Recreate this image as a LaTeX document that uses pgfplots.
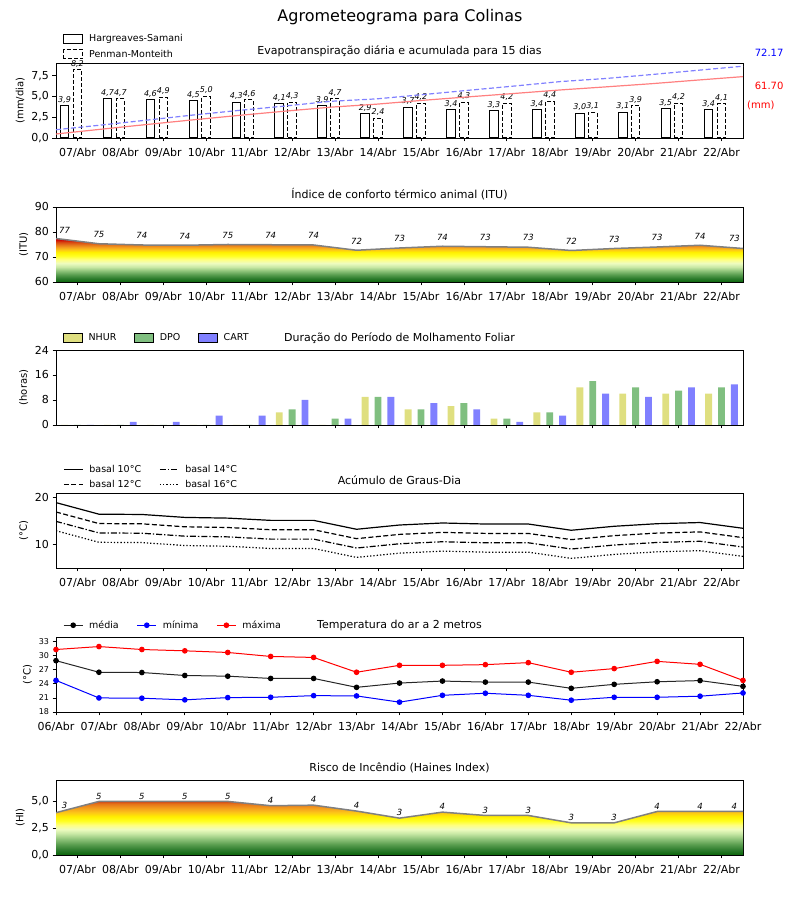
\documentclass[border=0pt]{standalone}
\usepackage{fontspec}
\setmainfont{DejaVu Sans}
\usepackage{pgfplots}
\pgfplotsset{compat=1.18}

\definecolor{nhur}{HTML}{DFDF80}
\definecolor{dpo}{HTML}{80BF80}
\definecolor{cart}{HTML}{8080FF}
\definecolor{cumred}{HTML}{FF8080}
\definecolor{cumblue}{HTML}{8080FF}
\definecolor{s0}{HTML}{0A640A}
\definecolor{s1}{HTML}{2E7D2E}
\definecolor{s2}{HTML}{5A9E50}
\definecolor{s3}{HTML}{8FC47A}
\definecolor{s4}{HTML}{C8E8A4}
\definecolor{s5}{HTML}{EEFCC0}
\definecolor{s6}{HTML}{FFFF80}
\definecolor{s7}{HTML}{FFFF20}
\definecolor{s8}{HTML}{FFEE00}
\definecolor{s9}{HTML}{FCC419}
\definecolor{s10}{HTML}{F39C1E}
\definecolor{s11}{HTML}{E4721A}
\definecolor{s12}{HTML}{D84410}
\definecolor{s13}{HTML}{CC0000}

% colour scales (path bounding box -> 25bp..75bp)
\pgfdeclareverticalshading{itu}{100bp}{color(0bp)=(s0); color(25bp)=(s0);
  color(29.31bp)=(s1); color(33.62bp)=(s2); color(37.93bp)=(s3);
  color(42.24bp)=(s4); color(46.55bp)=(s5); color(50.86bp)=(s6);
  color(55.17bp)=(s7); color(59.48bp)=(s8); color(62.36bp)=(s9);
  color(65.23bp)=(s10); color(68.10bp)=(s11); color(70.98bp)=(s12);
  color(73.85bp)=(s13); color(100bp)=(s13)}
\pgfdeclareverticalshading{haines}{100bp}{color(0bp)=(s0); color(25bp)=(s0);
  color(30bp)=(s1); color(35bp)=(s2); color(40bp)=(s3); color(45bp)=(s4);
  color(49bp)=(s5); color(53bp)=(s6); color(57bp)=(s7); color(61bp)=(s8);
  color(65bp)=(s9); color(69bp)=(s10); color(73bp)=(s11); color(75bp)=(s12);
  color(100bp)=(s12)}

\pgfplotsset{
  /pgf/number format/assume math mode=true,
  panel/.style={
    scale only axis, width=687pt, height=75pt, anchor=south west,
    axis line style={line width=0.9pt},
    tick align=outside, tick pos=left, major tick length=3.5pt,
    major tick style={line width=0.8pt, black},
    xmin=-0.5, xmax=15.5, xtick={0,...,15},
    xticklabels={07/Abr,08/Abr,09/Abr,10/Abr,11/Abr,12/Abr,13/Abr,14/Abr,15/Abr,16/Abr,17/Abr,18/Abr,19/Abr,20/Abr,21/Abr,22/Abr},
    tick label style={font=\fontsize{11}{13}\selectfont},
    xticklabel style={yshift=-3pt},
    ylabel style={font=\fontsize{10}{12}\selectfont},
    title style={font=\fontsize{11}{13}\selectfont, at={(0.5,1)}, anchor=base, yshift=2pt},
  },
  commay/.style={yticklabel style={/pgf/number format/.cd, fixed, fixed zerofill, precision=1, use comma}},
  mylegend/.style={legend style={draw=none, fill=none, at={(axis description cs:0,1)},
    anchor=south west, xshift=4pt, font=\fontsize{9.5}{11}\selectfont,
    cells={anchor=west},
    /tikz/every odd column/.append style={column sep=4pt},
    /tikz/every even column/.append style={column sep=16pt}}},
  vallab/.style={nodes near coords, point meta=explicit symbolic, draw=none, mark=none,
    nodes near coords style={font=\fontsize{8.5}{10}\selectfont\itshape, text=black,
      anchor=south, inner sep=0pt, yshift=#1}},
}

\begin{document}
\begin{tikzpicture}
\path[use as bounding box] (0pt,0pt) rectangle (800pt,900pt);
\node[font=\fontsize{16}{19}\selectfont] at (400pt,883pt) {Agrometeograma para Colinas};

% ---------- 1: evapotranspiracao
\begin{axis}[panel, at={(56pt,762pt)}, ymin=0, ymax=9.02, ytick={0,2.5,5,7.5}, commay,
  ylabel={(mm/dia)}, title={Evapotranspiração diária e acumulada para 15 dias},
  ybar, bar width=0.2, mylegend,
  legend style={yshift=0pt, /tikz/row sep=3pt},
  legend image code/.code={\draw[#1] (0pt,-4.5pt) rectangle (19pt,4.5pt);},
  nodes near coords style={font=\fontsize{8}{9}\selectfont\itshape, inner sep=0pt, yshift=2pt,
    /pgf/number format/.cd, fixed, fixed zerofill, precision=1, use comma}]
\addplot[draw=black, fill=white, line width=1pt, bar shift=0pt, nodes near coords]
  coordinates {(-0.3,3.9) (0.7,4.7) (1.7,4.6) (2.7,4.5) (3.7,4.3) (4.7,4.1) (5.7,3.9) (6.7,2.9)
    (7.7,3.7) (8.7,3.4) (9.7,3.3) (10.7,3.4) (11.7,3.0) (12.7,3.1) (13.7,3.5) (14.7,3.4)};
\addplot[draw=black, fill=white, line width=1pt, dash pattern=on 4pt off 2pt, bar shift=0pt, nodes near coords]
  coordinates {(0,8.2) (1,4.7) (2,4.9) (3,5.0) (4,4.6) (5,4.3) (6,4.7) (7,2.4)
    (8,4.2) (9,4.3) (10,4.2) (11,4.4) (12,3.1) (13,3.9) (14,4.2) (15,4.1)};
\legend{Hargreaves-Samani, Penman-Monteith}
\end{axis}
\begin{axis}[scale only axis, width=687pt, height=75pt, anchor=south west, at={(56pt,762pt)},
  xmin=-0.5, xmax=15.5, ymin=0, ymax=75.4, hide axis, clip=false]
\addplot[cumred, line width=1.2pt] coordinates {(-0.5,4.03) (0.567,8.89) (1.633,13.64) (2.7,18.29)
  (3.767,22.74) (4.833,26.97) (5.9,31.0) (6.967,34.0) (8.033,37.83) (9.1,41.34) (10.167,44.75)
  (11.233,48.26) (12.3,51.37) (13.367,54.57) (14.433,58.19) (15.5,61.70)};
\addplot[cumblue, line width=1.2pt, dash pattern=on 5pt off 2.5pt] coordinates {(-0.5,8.31) (0.567,13.08)
  (1.633,18.04) (2.7,23.11) (3.767,27.77) (4.833,32.13) (5.9,36.89) (6.967,39.33) (8.033,43.58)
  (9.1,47.94) (10.167,52.2) (11.233,56.66) (12.3,59.8) (13.367,63.75) (14.433,68.01) (15.5,72.17)};
\node[text=blue, font=\fontsize{10}{12}\selectfont] at (rel axis cs:1.038,1.133) {72.17};
\node[text=red, font=\fontsize{10}{12}\selectfont] at (rel axis cs:1.038,0.693) {61.70};
\node[text=red, font=\fontsize{10}{12}\selectfont] at (rel axis cs:1.026,0.44) {(mm)};
\end{axis}

% ---------- 2: ITU
\begin{axis}[panel, at={(56pt,618pt)}, ymin=60, ymax=90, ytick={60,70,80,90},
  ylabel={(ITU)}, title={Índice de conforto térmico animal (ITU)}]
\addplot[draw=none, shade, shading=itu, forget plot] coordinates {(-0.5,60) (-0.5,77.4) (0.5,75.3)
  (1.5,74.8) (2.5,74.7) (3.5,75.0) (4.5,74.9) (5.5,74.8) (6.5,72.7) (7.5,73.6) (8.5,74.3)
  (9.5,74.1) (10.5,73.9) (11.5,72.6) (12.5,73.4) (13.5,74.0) (14.5,74.7) (15.5,73.4) (15.5,60)};
\addplot[color=gray, line width=1.5pt, forget plot] coordinates {(-0.5,77.4) (0.5,75.3)
  (1.5,74.8) (2.5,74.7) (3.5,75.0) (4.5,74.9) (5.5,74.8) (6.5,72.7) (7.5,73.6) (8.5,74.3)
  (9.5,74.1) (10.5,73.9) (11.5,72.6) (12.5,73.4) (13.5,74.0) (14.5,74.7) (15.5,73.4)};
\addplot[vallab=6pt] table[meta=lab] {
x y lab
-0.3 77.0 77
0.5 75.3 75
1.5 74.8 74
2.5 74.7 74
3.5 75.0 75
4.5 74.9 74
5.5 74.8 74
6.5 72.7 72
7.5 73.6 73
8.5 74.3 74
9.5 74.1 73
10.5 73.9 73
11.5 72.6 72
12.5 73.4 73
13.5 74.0 73
14.5 74.7 74
15.3 73.6 73
};
\end{axis}

% ---------- 3: molhamento foliar
\begin{axis}[panel, at={(56pt,475pt)}, ymin=0, ymax=24, ytick={0,8,16,24}, xticklabels={},
  ylabel={(horas)}, title={Duração do Período de Molhamento Foliar},
  ybar, bar width=0.16, mylegend, legend columns=3, legend style={yshift=4pt},
  legend image code/.code={\draw[#1] (0pt,-4.5pt) rectangle (19pt,4.5pt);}]
\addplot[draw=none, fill=nhur, bar shift=0pt] coordinates {(-0.3,0) (0.7,0) (1.7,0) (2.7,0)
  (3.7,0) (4.7,4) (5.7,0) (6.7,9) (7.7,5) (8.7,6) (9.7,2) (10.7,4) (11.7,12) (12.7,10) (13.7,10) (14.7,10)};
\addplot[draw=none, fill=dpo, bar shift=0pt] coordinates {(0,0) (1,0) (2,0) (3,0)
  (4,0) (5,5) (6,2) (7,9) (8,5) (9,7) (10,2) (11,4) (12,14) (13,12) (14,11) (15,12)};
\addplot[draw=none, fill=cart, bar shift=0pt] coordinates {(0.3,0) (1.3,1) (2.3,1) (3.3,3)
  (4.3,3) (5.3,8) (6.3,2) (7.3,9) (8.3,7) (9.3,5) (10.3,1) (11.3,3) (12.3,10) (13.3,9) (14.3,12) (15.3,13)};
\legend{NHUR, DPO, CART}
\end{axis}

% ---------- 4: graus-dia
\begin{axis}[panel, at={(56pt,332pt)}, ymin=5, ymax=21, ytick={10,20},
  ylabel={(°C)}, title={Acúmulo de Graus-Dia},
  mylegend, legend columns=2, legend style={yshift=0pt, /tikz/row sep=2pt},
  legend image code/.code={\draw[#1] (0pt,0pt) -- (19pt,0pt);}]
\addplot[black, line width=1.2pt] coordinates {(-0.5,18.95) (0.5,16.48) (1.5,16.42) (2.5,15.79)
  (3.5,15.64) (4.5,15.16) (5.5,15.16) (6.5,13.26) (7.5,14.17) (8.5,14.60) (9.5,14.38) (10.5,14.38)
  (11.5,13.05) (12.5,13.90) (13.5,14.45) (14.5,14.70) (15.5,13.47)};
\addplot[black, line width=1.2pt, dash pattern=on 6pt off 2pt on 1.3pt off 2pt] coordinates {(-0.5,14.95)
  (0.5,12.48) (1.5,12.42) (2.5,11.79) (3.5,11.64) (4.5,11.16) (5.5,11.16) (6.5,9.26) (7.5,10.17)
  (8.5,10.60) (9.5,10.38) (10.5,10.38) (11.5,9.05) (12.5,9.90) (13.5,10.45) (14.5,10.70) (15.5,9.47)};
\addplot[black, line width=1.2pt, dash pattern=on 5pt off 2.5pt] coordinates {(-0.5,16.95)
  (0.5,14.48) (1.5,14.42) (2.5,13.79) (3.5,13.64) (4.5,13.16) (5.5,13.16) (6.5,11.26) (7.5,12.17)
  (8.5,12.60) (9.5,12.38) (10.5,12.38) (11.5,11.05) (12.5,11.90) (13.5,12.45) (14.5,12.70) (15.5,11.47)};
\addplot[black, line width=1.2pt, dash pattern=on 1.3pt off 2pt] coordinates {(-0.5,12.95)
  (0.5,10.48) (1.5,10.42) (2.5,9.79) (3.5,9.64) (4.5,9.16) (5.5,9.16) (6.5,7.26) (7.5,8.17)
  (8.5,8.60) (9.5,8.38) (10.5,8.38) (11.5,7.05) (12.5,7.90) (13.5,8.45) (14.5,8.70) (15.5,7.47)};
\legend{basal 10°C, basal 14°C, basal 12°C, basal 16°C}
\end{axis}

% ---------- 5: temperatura
\begin{axis}[panel, at={(56pt,188pt)}, xmin=0, xmax=16, xtick={0,...,16},
  xticklabels={06/Abr,07/Abr,08/Abr,09/Abr,10/Abr,11/Abr,12/Abr,13/Abr,14/Abr,15/Abr,16/Abr,17/Abr,18/Abr,19/Abr,20/Abr,21/Abr,22/Abr},
  ymin=18, ymax=34, ytick={18,21,...,33}, yticklabel style={font=\fontsize{8}{9}\selectfont},
  ylabel={(°C)}, title={Temperatura do ar a 2 metros},
  mylegend, legend columns=3, legend style={yshift=3pt},
  legend image code/.code={\draw[mark repeat=2, mark phase=2, #1] plot coordinates {(0pt,0pt) (9.5pt,0pt) (19pt,0pt)};}]
\addplot[black!85, line width=1pt, mark=*, mark size=2.3pt, mark options={fill=black, draw=black}]
  coordinates {(0,28.95) (1,26.48) (2,26.42) (3,25.79) (4,25.64) (5,25.16) (6,25.16) (7,23.26)
  (8,24.17) (9,24.60) (10,24.38) (11,24.38) (12,23.05) (13,23.90) (14,24.45) (15,24.70) (16,23.47)};
\addplot[blue, line width=1pt, mark=*, mark size=2.3pt, mark options={fill=blue, draw=blue}]
  coordinates {(0,24.74) (1,21.0) (2,20.94) (3,20.59) (4,21.07) (5,21.14) (6,21.49) (7,21.43)
  (8,20.1) (9,21.56) (10,22.0) (11,21.56) (12,20.52) (13,21.14) (14,21.14) (15,21.37) (16,22.06)};
\addplot[red, line width=1pt, mark=*, mark size=2.3pt, mark options={fill=red, draw=red}]
  coordinates {(0,31.33) (1,31.96) (2,31.33) (3,31.05) (4,30.7) (5,29.85) (6,29.64) (7,26.48)
  (8,27.96) (9,27.96) (10,28.1) (11,28.53) (12,26.48) (13,27.26) (14,28.8) (15,28.17) (16,24.74)};
\legend{média, mínima, máxima}
\end{axis}

% ---------- 6: Haines
\begin{axis}[panel, at={(56pt,45pt)}, ymin=0, ymax=7, ytick={0,2.5,5}, commay,
  ylabel={(HI)}, title={Risco de Incêndio (Haines Index)}]
\addplot[draw=none, shade, shading=haines, forget plot] coordinates {(-0.5,0) (-0.5,3.95) (0.5,5.0)
  (1.5,5.0) (2.5,5.0) (3.5,5.0) (4.5,4.6) (5.5,4.65) (6.5,4.1) (7.5,3.44) (8.5,4.0) (9.5,3.69)
  (10.5,3.69) (11.5,3.0) (12.5,3.0) (13.5,4.06) (14.5,4.06) (15.5,4.06) (15.5,0)};
\addplot[color=gray, line width=1.5pt, forget plot] coordinates {(-0.5,3.95) (0.5,5.0)
  (1.5,5.0) (2.5,5.0) (3.5,5.0) (4.5,4.6) (5.5,4.65) (6.5,4.1) (7.5,3.44) (8.5,4.0) (9.5,3.69)
  (10.5,3.69) (11.5,3.0) (12.5,3.0) (13.5,4.06) (14.5,4.06) (15.5,4.06)};
\addplot[vallab=2pt] table[meta=lab] {
x y lab
-0.3 4.16 3
0.5 5.0 5
1.5 5.0 5
2.5 5.0 5
3.5 5.0 5
4.5 4.6 4
5.5 4.65 4
6.5 4.1 4
7.5 3.44 3
8.5 4.0 4
9.5 3.69 3
10.5 3.69 3
11.5 3.0 3
12.5 3.0 3
13.5 4.06 4
14.5 4.06 4
15.3 4.06 4
};
\end{axis}
\end{tikzpicture}
\end{document}
